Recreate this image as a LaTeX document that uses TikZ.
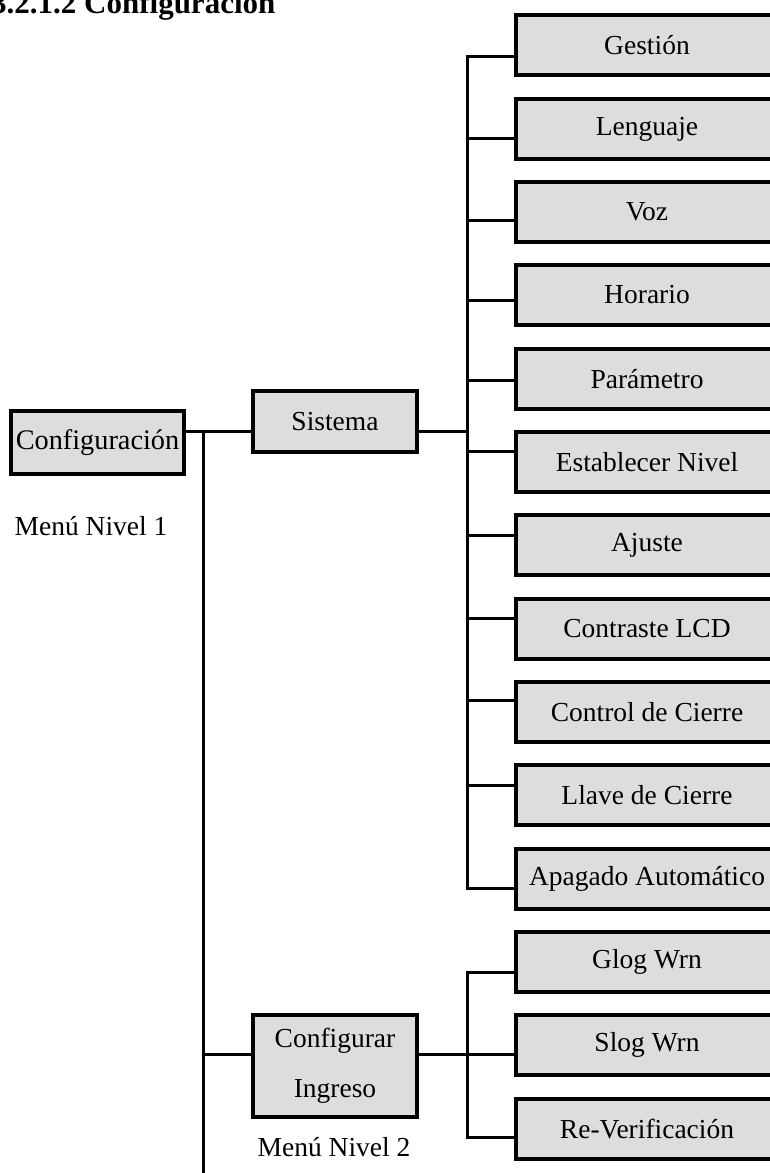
\documentclass[tikz,border=0pt]{standalone}
\usepackage{fontspec}
\setmainfont{Liberation Serif}
\begin{document}
\begin{tikzpicture}[x=1pt,y=-1pt,
  menubox/.style={draw=black,line width=3.6pt,fill=boxgray,inner sep=0pt,
    font=\fontsize{27.5}{50}\selectfont,align=center},
  leafbox/.style={menubox,minimum width=262pt,minimum height=60pt},
  conn/.style={line width=3pt,line cap=rect},
  lbl/.style={font=\fontsize{27.5}{33}\selectfont,inner sep=0pt}]
\definecolor{boxgray}{HTML}{DDDDDD}
\useasboundingbox (0,0) rectangle (770,1173);
\clip (0,0) rectangle (770,1173);
% title
\node[anchor=base west,inner sep=0pt,font=\fontsize{31}{36}\selectfont\bfseries] (title) at (-9,13) {3.2.1.2 Configuración};
% level 1
\node[menubox,minimum width=173pt,minimum height=63pt,font=\fontsize{28.3}{34}\selectfont] (config) at (97.5,442.5) {Configuración};
\node[lbl] (m1) at (91,526) {Menú Nivel 1};
% level 2
\node[menubox,minimum width=164pt,minimum height=61pt] (sis) at (335,421.5) {Sistema};
\node[menubox,minimum width=164pt,minimum height=102pt] (ing) at (335,1066) {Configurar\\Ingreso};
\node[lbl] (m2) at (334,1147) {Menú Nivel 2};
% leaves
\foreach \n/\t/\y in {gest/Gestión/45,leng/Lenguaje/129,voz/Voz/212,hor/Horario/295,
  par/Parámetro/379,est/Establecer Nivel/462,aju/Ajuste/545,con/Contraste LCD/629,
  cie/Control de Cierre/712,lla/Llave de Cierre/795,apa/Apagado Automático/879,
  glog/Glog Wrn/962,slog/Slog Wrn/1045,rev/Re-Verificación/1129}
  \node[leafbox] (\n) at (647,\y) {\t};
% connectors level 1
\coordinate (j1) at (203,431);
\coordinate (jb) at (203,1180);
\draw[conn] (config.east |- j1) -- (sis.west |- j1);
\draw[conn] (j1) -- (jb);
\coordinate (j3) at (203,1054);
\draw[conn] (j3) -- (ing.west |- j3);
% upper group
\coordinate (ja) at (467,56);
\coordinate (jz) at (467,888);
\draw[conn] (sis.east |- j1) -- (467,431);
\draw[conn] (ja) -- (jz);
\foreach \n/\y in {gest/56,leng/138,voz/220,hor/300,par/380,est/451,aju/535,con/618,cie/700,lla/785,apa/888}{
  \coordinate (c\n) at (467,\y);
  \draw[conn] (c\n) -- (\n.west |- c\n);
}
% lower group
\coordinate (ka) at (467,972);
\coordinate (kz) at (467,1137);
\draw[conn] (ing.east |- j3) -- (467,1054);
\draw[conn] (ka) -- (kz);
\foreach \n/\y in {glog/972,slog/1054,rev/1137}{
  \coordinate (c\n) at (467,\y);
  \draw[conn] (c\n) -- (\n.west |- c\n);
}
\end{tikzpicture}
\end{document}
